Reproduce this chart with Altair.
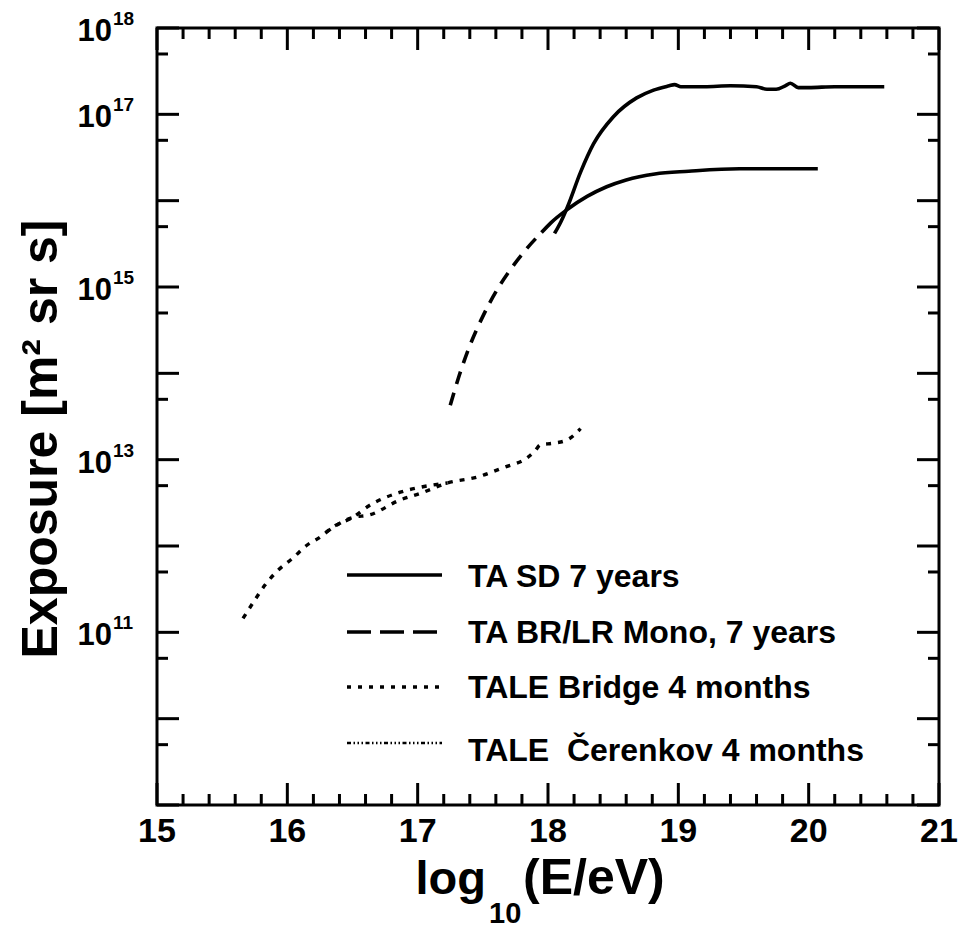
import altair as alt
import pandas as pd

# ---------------- data ----------------
sd_logE = [18.05, 18.10, 18.15, 18.25, 18.35, 18.50, 18.68, 18.81,
           18.93, 18.97, 19.02, 19.20, 19.40, 19.60, 19.68, 19.75, 19.82, 19.86,
           19.92, 20.00, 20.20, 20.58]
sd_exposure = [4.17e15, 5.75e15, 8.51e15, 2.14e16, 4.57e16, 9.33e16, 1.55e17, 1.91e17,
               2.14e17, 2.21e17, 2.09e17, 2.09e17, 2.14e17, 2.09e17,
               1.95e17, 1.95e17, 2.14e17, 2.29e17, 2.04e17, 2.04e17, 2.09e17, 2.09e17]

mono_logE = [17.25, 17.32, 17.40, 17.50, 17.61, 17.71, 17.84, 17.95, 18.02, 18.15,
             18.30, 18.45, 18.60, 18.82, 19.08, 19.47, 19.80, 20.07]
mono_exposure = [4.27e13, 9.55e13, 2.09e14, 4.57e14, 9.33e14, 1.58e15, 2.82e15, 4.27e15,
                 5.50e15, 7.94e15, 1.12e16, 1.45e16, 1.74e16, 2.04e16, 2.19e16, 2.34e16,
                 2.34e16, 2.34e16]
mono_dash_end = 17.95  # mono curve is drawn dashed below this energy, solid above

bridge_logE = [16.30, 16.50, 16.63, 16.86, 17.02, 17.23, 17.46, 17.66, 17.84, 17.90,
               17.94, 18.04, 18.15, 18.25]
bridge_exposure = [1.45e12, 2.14e12, 2.29e12, 3.39e12, 4.07e12, 5.37e12, 6.31e12, 8.13e12,
                   1.05e13, 1.26e13, 1.48e13, 1.55e13, 1.70e13, 2.29e13]

cer_logE = [15.66, 15.74, 15.83, 15.93, 16.04, 16.15, 16.25, 16.35, 16.50, 16.63,
            16.86, 17.02, 17.23]
cer_exposure = [1.45e11, 2.24e11, 3.55e11, 5.25e11, 7.2e11, 1.02e12, 1.26e12, 1.66e12,
                2.14e12, 2.95e12, 4.17e12, 4.79e12, 5.37e12]

legend_labels = ["TA SD 7 years", "TA BR/LR Mono, 7 years", "TALE Bridge 4 months",
                 "TALE\u00a0 \u010cerenkov 4 months"]

x_tick_labels = [15, 16, 17, 18, 19, 20, 21]
x_minor_ticks = [round(15 + i * 0.2, 1) for i in range(31) if i % 5]
y_major_ticks = [1e9, 1e10, 1e11, 1e12, 1e13, 1e14, 1e15, 1e16, 1e17, 1e18]
y_minor_ticks = [5e9, 5e10, 5e11, 5e12, 5e13, 5e14, 5e15, 5e16, 5e17]
y_label_exponents = [11, 13, 15, 17, 18]
y_label_values = [1e11, 1e13, 1e15, 1e17, 1e18]

# ---------------- layout ----------------
W, H = 782, 777
FONT = "Liberation Sans"
xs = alt.Scale(domain=[15, 21], nice=False, zero=False)
ys = alt.Scale(type="log", domain=[1e9, 1e18], nice=False)

LW = 3.6
DASH_MONO = [13, 9]
DASH_BRIDGE = [5, 7]
DASH_CER = [4, 2.5, 1.5, 2.5, 1.5, 2.5, 1.5, 2.5]


def curve(x, y, dash=None, width=LW):
    df = pd.DataFrame({"logE": x, "exposure": y})
    kw = dict(color="black", strokeWidth=width, interpolate="monotone")
    if dash is not None:
        kw["strokeDash"] = dash
    return alt.Chart(df).mark_line(**kw).encode(
        x=alt.X("logE:Q", scale=xs, axis=None),
        y=alt.Y("exposure:Q", scale=ys, axis=None),
    )


mono_df = pd.DataFrame({"x": mono_logE, "y": mono_exposure})
mono_lo = mono_df[mono_df.x <= mono_dash_end]
mono_hi = mono_df[mono_df.x >= mono_dash_end]

layers = [
    curve(cer_logE, cer_exposure, [5, 7], 3.4),
    curve(bridge_logE, bridge_exposure, DASH_BRIDGE, 3.4),
    curve(list(mono_lo.x), list(mono_lo.y), DASH_MONO),
    curve(list(mono_hi.x), list(mono_hi.y)),
    curve(sd_logE, sd_exposure),
]


def yticks(vals, x0, x1):
    return alt.Chart(pd.DataFrame({"v": vals})).mark_rule(color="black", strokeWidth=3).encode(
        y=alt.Y("v:Q", scale=ys, axis=None), x=alt.value(x0), x2=alt.value(x1))


def xticks(vals, y0, y1):
    return alt.Chart(pd.DataFrame({"v": vals})).mark_rule(color="black", strokeWidth=3).encode(
        x=alt.X("v:Q", scale=xs, axis=None), y=alt.value(y0), y2=alt.value(y1))


MAJ, MIN = 22, 11
layers += [
    yticks(y_major_ticks, 0, MAJ), yticks(y_major_ticks, W - MAJ, W),
    yticks(y_minor_ticks, 0, MIN), yticks(y_minor_ticks, W - MIN, W),
    xticks(x_tick_labels, H - MAJ, H), xticks(x_tick_labels, 0, MAJ),
    xticks(x_minor_ticks, H - MIN, H), xticks(x_minor_ticks, 0, MIN),
]

# y tick labels: "10" with a superscript exponent
ylab = pd.DataFrame({"v": y_label_values, "e": [str(e) for e in y_label_exponents]})
layers.append(alt.Chart(ylab).mark_text(
    text="10", align="right", baseline="middle", dy=4, fontSize=31,
    fontWeight="bold", font=FONT, color="black").encode(
    y=alt.Y("v:Q", scale=ys, axis=None), x=alt.value(-45)))
layers.append(alt.Chart(ylab).mark_text(
    align="left", baseline="middle", dy=-9, fontSize=19,
    fontWeight="bold", font=FONT, color="black").encode(
    y=alt.Y("v:Q", scale=ys, axis=None), x=alt.value(-44), text="e:N"))

# x tick labels
xlab = pd.DataFrame({"v": x_tick_labels, "t": [str(v) for v in x_tick_labels]})
layers.append(alt.Chart(xlab).mark_text(
    baseline="middle", fontSize=34, fontWeight="bold", font=FONT, color="black").encode(
    x=alt.X("v:Q", scale=xs, axis=None), y=alt.value(H + 27), text="t:N"))


def label(txt, x, y, size, align="left", baseline="alphabetic", angle=0):
    kw = dict(align=align, baseline=baseline, fontSize=size, fontWeight="bold",
              font=FONT, color="black")
    if angle:
        kw["angle"] = angle
    return alt.Chart(pd.DataFrame({"t": [txt]})).mark_text(**kw).encode(
        text="t:N", x=alt.value(x), y=alt.value(y))


# axis titles
layers += [
    label("log", 329, 866, 47, align="right"),
    label("10", 332, 895, 29),
    label("(E/eV)", 366, 866, 50),
    label("Exposure [m\u00b2 sr s]", -115, 411, 50, align="center", baseline="middle", angle=270),
]

# legend
leg_line_y = [547, 604, 659, 715]
leg_text_y = [549, 605, 660, 723]
leg_dash = [None, [24, 9], [4, 7], DASH_CER]
for lbl, ly, ty, dash in zip(legend_labels, leg_line_y, leg_text_y, leg_dash):
    kw = dict(color="black", strokeWidth=3.4 if dash is not DASH_CER else 2.6)
    if dash is not None:
        kw["strokeDash"] = dash
    layers.append(alt.Chart(pd.DataFrame({"t": [lbl]})).mark_rule(**kw).encode(
        x=alt.value(190), x2=alt.value(285), y=alt.value(ly)))
    layers.append(label(lbl, 311, ty, 32, baseline="middle"))

chart = alt.layer(*layers).properties(
    width=W, height=H,
    autosize=alt.AutoSizeParams(type="none"),
    padding={"left": 157, "top": 28, "right": 23, "bottom": 124},
).configure_view(stroke="black", strokeWidth=3)

chart.save("out.html", embed_options={"renderer": "svg", "actions": False})
